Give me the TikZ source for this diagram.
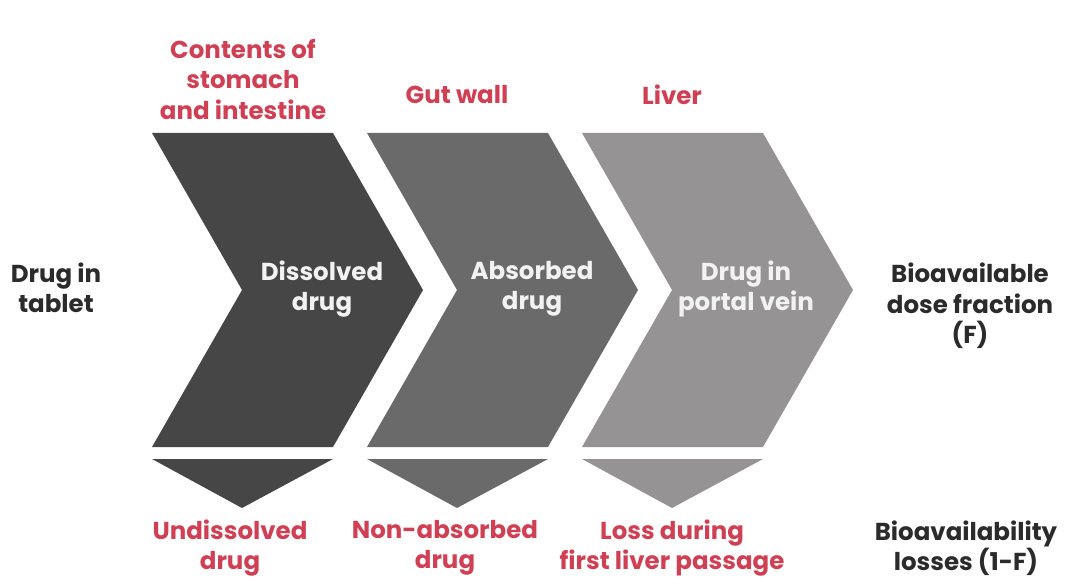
\documentclass[tikz,border=0pt]{standalone}
\usepackage{fontspec}
\setmainfont{Poppins}
\definecolor{redlbl}{HTML}{CF4054}
\definecolor{darktxt}{HTML}{2B2B2B}
\definecolor{greyA}{HTML}{464647}
\definecolor{greyB}{HTML}{6A6A6B}
\definecolor{greyC}{HTML}{959394}
\definecolor{boxtxt}{HTML}{F2F2F2}

\begin{document}
\begin{tikzpicture}[x=1pt,y=-1pt,
    txt/.style={font=\bfseries\fontsize{24.5}{30.5}\selectfont,align=center,inner sep=0pt},
    darklbl/.style={txt,text=darktxt},
    redtxt/.style={txt,text=redlbl},
    inbox/.style={txt,text=boxtxt}]
  \useasboundingbox (0,0) rectangle (1068,580);

  % chevrons
  \fill[greyA] (152,133) -- (333,133) -- (423,290) -- (333,447) -- (152,447) -- (242,290) -- cycle;
  \fill[greyB] (367,133) -- (548,133) -- (638,290) -- (548,447) -- (367,447) -- (457,290) -- cycle;
  \fill[greyC] (582,133) -- (763,133) -- (853,290) -- (763,447) -- (582,447) -- (672,290) -- cycle;

  % losses
  \fill[greyA] (152,459) -- (333,459) -- (242,508) -- cycle;
  \fill[greyB] (367,459) -- (548,459) -- (457,508) -- cycle;
  \fill[greyC] (582,459) -- (763,459) -- (672,508) -- cycle;

  % stations
  \node[redtxt] (stomach) at (243,79) {Contents of\\stomach\\and intestine};
  \node[redtxt] (gut) at (457,95) {Gut wall};
  \node[redtxt] (liver) at (672,95) {Liver};

  \node[darklbl] (tablet) at (56,288) {Drug in\\tablet};
  \node[inbox] (dissolved) at (322,289) {Dissolved\\drug};
  \node[inbox] (absorbed) at (532,289) {Absorbed\\drug};
  \node[inbox] (portal) at (746,289) {Drug in\\portal vein};
  \node[darklbl] (bioF) at (970,306) {Bioavailable\\dose fraction\\(F)};

  \node[redtxt] (undiss) at (230,548) {Undissolved\\drug};
  \node[redtxt] (nonabs) at (445,548) {Non-absorbed\\drug};
  \node[redtxt] (firstpass) at (672,548) {Loss during\\first liver passage};
  \node[darklbl] (losses) at (966,548) {Bioavailability\\losses (1-F)};
\end{tikzpicture}
\end{document}
